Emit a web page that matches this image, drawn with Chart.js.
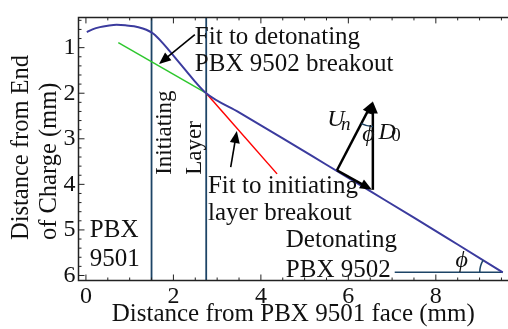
<!DOCTYPE html>
<html lang="en">
<head>
  <meta charset="UTF-8">
  <title>Breakout front</title>
  <script src="https://cdn.jsdelivr.net/npm/chart.js"></script>
  <style>
    body { margin: 0; padding: 0; background: #fff; }
    #wrap { width: 508px; height: 329px; }
  </style>
</head>
<body>
  <div id="wrap"><canvas id="breakoutChart"></canvas></div>

  <script>
    // measured breakout front (blue)
    const frontX = [0.02, 0.15, 0.32, 0.5, 0.7, 0.9, 1.1, 1.3, 1.45, 1.55, 1.7, 1.9, 2.1, 2.3, 2.5, 2.75, 3.5, 4.5, 5.5, 6.5, 7.5, 8.5, 9.53];
    const frontY = [0.66, 0.60, 0.55, 0.52, 0.50, 0.51, 0.53, 0.58, 0.64, 0.70, 0.84, 1.06, 1.29, 1.52, 1.75, 2.0, 2.42, 2.99, 3.57, 4.15, 4.73, 5.32, 5.93];

    // linear fits
    const detFitX = [0.74, 2.75];
    const detFitY = [0.89, 2.0];
    const initFitX = [2.75, 4.37];
    const initFitY = [2.0, 3.77];

    // initiating layer boundaries, and the flat reference at the far end
    const layerEdges = [1.5, 2.75];
    const baseX = [7.06, 9.53];
    const baseY = [5.93, 5.93];

    const xTicks = [0, 2, 4, 6, 8];
    const yTicks = [1, 2, 3, 4, 5, 6];
    const xMin = -0.17, xMax = 9.65;
    const yMin = 0.336, yMax = 6.11;

    const serif = "'Liberation Serif', 'Times New Roman', serif";
    const navy = '#1d4466';

    const pts = (xs, ys) => xs.map((x, i) => ({ x: x, y: ys[i] }));

    const datasets = [
      { data: pts(frontX, frontY), borderColor: '#3b3b9e', borderWidth: 2, tension: 0.4, cubicInterpolationMode: 'monotone' },
      { data: pts(detFitX, detFitY), borderColor: '#2ec72e', borderWidth: 1.5 },
      { data: pts(initFitX, initFitY), borderColor: '#ff0000', borderWidth: 1.5 },
      { data: pts(baseX, baseY), borderColor: navy, borderWidth: 1.5 }
    ];
    layerEdges.forEach(x => {
      datasets.push({ data: [{ x: x, y: yMin }, { x: x, y: yMax }], borderColor: navy, borderWidth: 1.8 });
    });
    datasets.forEach(d => { d.showLine = true; d.pointRadius = 0; d.fill = false; });

    function arrow(ctx, x1, y1, x2, y2) {
      const a = Math.atan2(y2 - y1, x2 - x1);
      const len = 12, half = 5;
      ctx.beginPath();
      ctx.moveTo(x1, y1);
      ctx.lineTo(x2 - Math.cos(a) * len * 0.8, y2 - Math.sin(a) * len * 0.8);
      ctx.stroke();
      ctx.beginPath();
      ctx.moveTo(x2, y2);
      ctx.lineTo(x2 - Math.cos(a) * len + Math.sin(a) * half, y2 - Math.sin(a) * len - Math.cos(a) * half);
      ctx.lineTo(x2 - Math.cos(a) * len - Math.sin(a) * half, y2 - Math.sin(a) * len + Math.cos(a) * half);
      ctx.closePath();
      ctx.fill();
    }

    // frame, inward ticks, arrows and labels
    const decor = {
      id: 'decor',
      afterDatasetsDraw(chart) {
        const ctx = chart.ctx;
        const xs = chart.scales.x, ys = chart.scales.y;
        const area = chart.chartArea;
        const X = v => xs.getPixelForValue(v);
        const Y = v => ys.getPixelForValue(v);
        ctx.save();

        // frame
        ctx.strokeStyle = '#222';
        ctx.lineWidth = 1.5;
        ctx.beginPath();
        ctx.moveTo(area.right, area.top);
        ctx.lineTo(area.left, area.top);
        ctx.lineTo(area.left, area.bottom);
        ctx.lineTo(area.right, area.bottom);
        ctx.stroke();

        ctx.lineWidth = 1;
        ctx.beginPath();
        for (let v = 0; v <= 9.6; v += 0.5) {
          const major = Math.abs(v % 2) < 1e-6;
          const l = major ? 6 : 3;
          const px = X(v);
          ctx.moveTo(px, area.bottom); ctx.lineTo(px, area.bottom - l);
          ctx.moveTo(px, area.top); ctx.lineTo(px, area.top + l);
        }
        for (let i = 2; i <= 30; i++) {
          const v = i * 0.2;
          const major = i % 5 === 0;
          const l = major ? 6 : 3;
          const py = Y(v);
          ctx.moveTo(area.left, py); ctx.lineTo(area.left + l, py);
        }
        ctx.stroke();

        // arrows
        ctx.strokeStyle = '#000';
        ctx.fillStyle = '#000';
        ctx.lineWidth = 1.6;
        arrow(ctx, X(2.49), Y(0.713), X(1.67), Y(1.36));
        arrow(ctx, X(3.31), Y(3.62), X(3.45), Y(2.83));
        ctx.lineWidth = 2.5;
        arrow(ctx, X(5.74), Y(3.69), X(6.56), Y(2.18));
        arrow(ctx, X(6.56), Y(4.12), X(6.56), Y(2.18));
        arrow(ctx, X(5.74), Y(3.69), X(6.54), Y(4.12));

        // angle arcs
        ctx.strokeStyle = navy;
        ctx.lineWidth = 1.5;
        const tipX = X(6.56), tipY = Y(2.18);
        const angUn = Math.atan2(Y(3.69) - tipY, X(5.74) - tipX);
        ctx.beginPath();
        ctx.arc(tipX, tipY, 25, Math.PI / 2, angUn);
        ctx.stroke();
        const endX = X(9.53), endY = Y(5.93);
        const angFront = Math.atan2(Y(5.32) - endY, X(8.5) - endX) + 2 * Math.PI;
        ctx.beginPath();
        ctx.arc(endX, endY, 23, Math.PI, angFront);
        ctx.stroke();

        // labels
        ctx.fillStyle = '#111';
        ctx.textBaseline = 'middle';
        ctx.textAlign = 'left';
        const txt = (s, x, y, size, style) => {
          ctx.font = (style || '') + ' ' + size + 'px ' + serif;
          ctx.fillText(s, X(x), Y(y));
        };
        txt('Fit to detonating', 2.49, 0.778, 25);
        txt('PBX 9502 breakout', 2.49, 1.36, 25);
        txt('Fit to initiating', 2.79, 4.05, 25);
        txt('layer breakout', 2.79, 4.64, 25);
        txt('PBX', 0.09, 5.02, 25);
        txt('9501', 0.09, 5.65, 25);
        txt('Detonating', 4.57, 5.24, 25);
        txt('PBX 9502', 4.57, 5.89, 25);
        txt('U', 5.52, 2.59, 24, 'italic');
        txt('n', 5.83, 2.70, 19, 'italic');
        txt('\u03d5', 6.32, 2.91, 24, 'italic');
        txt('D', 6.69, 2.87, 24, 'italic');
        txt('0', 6.98, 2.95, 19);
        txt('\u03d5', 8.45, 5.67, 24, 'italic');

        // rotated labels
        const vtxt = (s, px, py, size) => {
          ctx.save();
          ctx.translate(px, py);
          ctx.rotate(-Math.PI / 2);
          ctx.font = size + 'px ' + serif;
          ctx.fillText(s, 0, 0);
          ctx.restore();
        };
        vtxt('Initiating', X(1.81), Y(3.79), 23);
        vtxt('Layer', X(2.49), Y(3.79), 23);
        vtxt('Distance from End', 22, 240, 24.5);
        vtxt('of Charge (mm)', 50, 240, 24.5);

        ctx.restore();
      }
    };

    new Chart(document.getElementById('breakoutChart'), {
      type: 'scatter',
      data: { datasets: datasets },
      plugins: [decor],
      options: {
        responsive: true,
        maintainAspectRatio: false,
        animation: false,
        layout: { padding: { top: 12.5, right: 0, left: 0, bottom: 0 } },
        plugins: { legend: { display: false }, tooltip: { enabled: false } },
        scales: {
          x: {
            type: 'linear',
            min: xMin,
            max: xMax,
            afterBuildTicks: s => { s.ticks = xTicks.map(v => ({ value: v })); },
            afterFit: s => { s.height = 48.5; },
            grid: { display: false, drawTicks: false },
            border: { display: false },
            ticks: { color: '#111', padding: 2, maxRotation: 0, font: { family: serif, size: 24 } },
            title: {
              display: true,
              text: 'Distance from PBX 9501 face (mm)',
              color: '#111',
              padding: { top: 0, bottom: 2 },
              font: { family: serif, size: 25, lineHeight: 1 }
            }
          },
          y: {
            type: 'linear',
            reverse: true,
            min: yMin,
            max: yMax,
            afterBuildTicks: s => { s.ticks = yTicks.map(v => ({ value: v })); },
            afterFit: s => { s.width = 78.5; },
            grid: { display: false, drawTicks: false },
            border: { display: false },
            ticks: { color: '#111', padding: 3, font: { family: serif, size: 24 } }
          }
        }
      }
    });
  </script>
</body>
</html>
